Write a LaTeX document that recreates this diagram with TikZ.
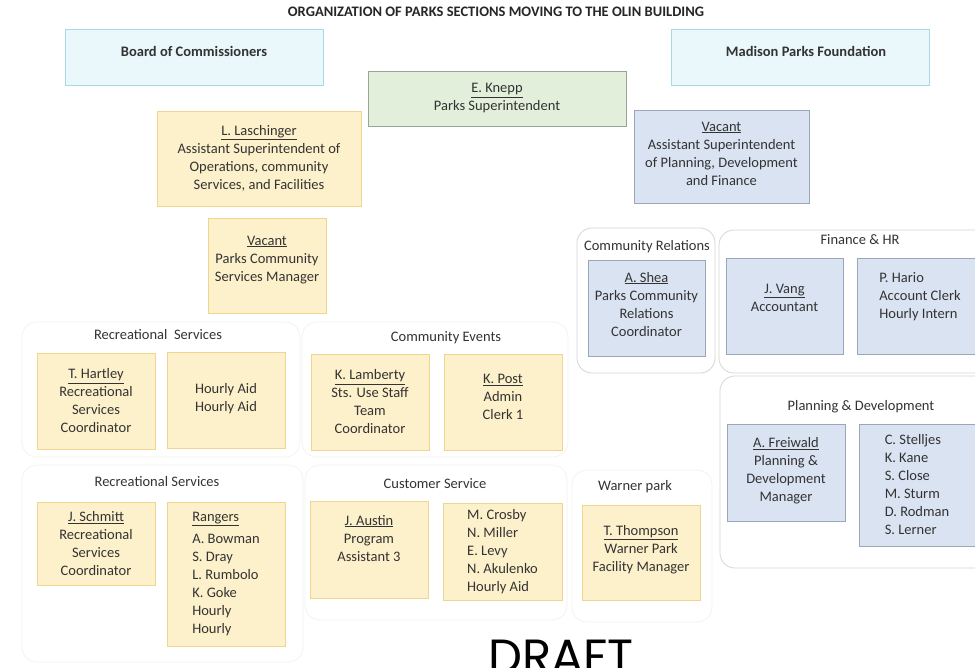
\documentclass[tikz,border=0pt]{standalone}
\usepackage{fontspec}
\setmainfont{Carlito}
\newfontfamily\draftfont{Poppins}
\usetikzlibrary{positioning}

\definecolor{txtgray}{HTML}{333333}
\definecolor{ylwfill}{HTML}{FDF1CB}
\definecolor{ylwline}{HTML}{EED690}
\definecolor{bluefill}{HTML}{DAE3F2}
\definecolor{blueline}{HTML}{9AA6BA}
\definecolor{grnfill}{HTML}{E2EFDA}
\definecolor{grnline}{HTML}{9AA59A}
\definecolor{skyfill}{HTML}{EAF7FB}
\definecolor{skyline}{HTML}{A6DAE6}
\definecolor{faintline}{HTML}{F3F3EE}
\definecolor{grpline}{HTML}{D6D6D6}

\tikzset{
  box/.style={draw, line width=0.8pt, align=center, inner sep=2pt, text=txtgray,
    font=\fontsize{14.5}{18}\selectfont},
  ybox/.style={box, draw=ylwline, fill=ylwfill},
  bbox/.style={box, draw=blueline, fill=bluefill},
  cell/.style={minimum width=118pt, minimum height=96pt},
  grp/.style={draw=#1, line width=0.8pt, rounded corners=15pt},
  grptitle/.style={text=txtgray, font=\fontsize{14.5}{16}\selectfont, inner sep=1pt},
}

\begin{document}
\begin{tikzpicture}[x=1pt,y=-1pt]
  \useasboundingbox[fill=white] (0,0) rectangle (975,667);

  % group frames (name/center x/center y/width/height/colour)
  \foreach \nm/\cx/\cy/\w/\h/\c in {rs1/161/389.5/278/135/faintline,
      ce/435/389.5/266/135/faintline, rs2/162.5/563.5/281/197/faintline,
      cs/436/542.5/262/155/faintline, wp/642/546/140/152/faintline,
      cr/646/300.5/138/145/grpline, fhr/854.5/301.5/271/143/grpline,
      pd/855/472/270/192/grpline}
    \node[grp=\c, minimum width=\w pt, minimum height=\h pt] (\nm) at (\cx,\cy) {};

  \node[font=\bfseries\fontsize{14.5}{16}\selectfont, text=black!85] (title) at (496,12)
    {ORGANIZATION OF PARKS SECTIONS MOVING TO THE OLIN BUILDING};

  % top level
  \node[box, draw=skyline, fill=skyfill, minimum width=258pt, minimum height=56pt,
    font=\bfseries\fontsize{14.5}{18}\selectfont] (board) at (194,57)
    {Board of Commissioners\\[-6pt]\mbox{}};
  \node[box, draw=skyline, fill=skyfill, minimum width=258pt, minimum height=56pt,
    font=\bfseries\fontsize{14.5}{18}\selectfont] (mpf) at (800,57)
    {\hspace{12pt}Madison Parks Foundation\\[-6pt]\mbox{}};
  \node[box, draw=grnline, fill=grnfill, minimum width=258pt, minimum height=55pt]
    (knepp) at (497,98.5) {\underline{E. Knepp}\\Parks Superintendent};
  \node[ybox, minimum width=204pt, minimum height=95pt] (lasch) at (259,158.5)
    {\underline{L. Laschinger}\\Assistant Superintendent of\\Operations, community\\Services, and Facilities};
  \node[bbox, minimum width=175pt, minimum height=93pt] (vacpd) at (721.5,156.5)
    {\underline{Vacant}\\Assistant Superintendent\\of Planning, Development\\and Finance\\[-12pt]\mbox{}};
  \node[ybox, cell, minimum height=95pt] (vacpcs) at (267,265.5)
    {\underline{Vacant}\\Parks Community\\Services Manager\\[-4pt]\mbox{}};

  % group titles
  \node[grptitle] (rs1-t) at (158,335) {Recreational\ \ Services};
  \node[grptitle] (ce-t) at (446,338) {Community Events};
  \node[grptitle] (cr-t) at (647,247) {Community Relations};
  \node[grptitle] (fhr-t) at (860,240) {Finance \& HR};
  \node[grptitle] (pd-t) at (861,407) {Planning \& Development};
  \node[grptitle] (rs2-t) at (157,482) {Recreational Services};
  \node[grptitle] (cs-t) at (435,484) {Customer Service};
  \node[grptitle] (wp-t) at (635,487) {Warner park};

  % recreational services / community events
  \node[ybox, cell] (hartley) at (96,401)
    {\underline{T. Hartley}\\Recreational\\Services\\Coordinator};
  \node[ybox, cell] (hourly) at (226,400.5) {Hourly Aid\\Hourly Aid\\[-11pt]\mbox{}};
  \node[ybox, cell] (lamberty) at (370,402)
    {\underline{K. Lamberty}\\Sts. Use Staff\\Team\\Coordinator};
  \node[ybox, cell] (post) at (503,402) {\underline{K. Post}\\Admin\\Clerk 1\\[-8pt]\mbox{}};

  % community relations / finance / planning
  \node[bbox, minimum width=117pt, minimum height=96pt] (shea) at (646.5,308)
    {\underline{A. Shea}\\Parks Community\\Relations\\Coordinator\\[-10pt]\mbox{}};
  \node[bbox, minimum width=117pt, minimum height=96pt] (vang) at (784.5,306)
    {\underline{J. Vang}\\Accountant\\[-1pt]\mbox{}};
  \node[bbox, cell, align=left] (hario) at (916,306.5)
    {\hspace{8pt}P. Hario\\\hspace{8pt}Account Clerk\\\hspace{8pt}Hourly Intern\\[3pt]\mbox{}};
  \node[bbox, cell, minimum height=97pt] (freiwald) at (786,472.5)
    {\underline{A. Freiwald}\\Planning \&\\Development\\Manager\\[-12pt]\mbox{}};
  \node[bbox, minimum width=116pt, minimum height=122pt, align=left] (staff) at (917,485)
    {C. Stelljes\\K. Kane\\S. Close\\M. Sturm\\D. Rodman\\S. Lerner};

  % second row
  \node[ybox, cell, minimum height=83pt] (schmitt) at (96,543.5)
    {\underline{J. Schmitt}\\Recreational\\Services\\Coordinator};
  \node[ybox, cell, minimum height=144pt, align=left] (rangers) at (226,574)
    {\underline{Rangers}\\[4pt]A. Bowman\\S. Dray\\L. Rumbolo\\K. Goke\\Hourly\\Hourly};
  \node[ybox, cell, minimum height=97pt] (austin) at (369,549.5)
    {\underline{J. Austin}\\Program\\Assistant 3\\[5pt]\mbox{}};
  \node[ybox, minimum width=119pt, minimum height=97pt, align=left] (crosby) at (502.5,551.5)
    {M. Crosby\\N. Miller\\E. Levy\\N. Akulenko\\Hourly Aid};
  \node[ybox, cell, minimum height=95pt] (thompson) at (641,552.5)
    {\underline{T. Thompson}\\Warner Park\\Facility Manager\\[-9pt]\mbox{}};

  \node[anchor=base, inner sep=0pt, font=\draftfont\fontsize{48}{52}\selectfont] (draft) at (561,673) {DRAFT};
\end{tikzpicture}
\end{document}
